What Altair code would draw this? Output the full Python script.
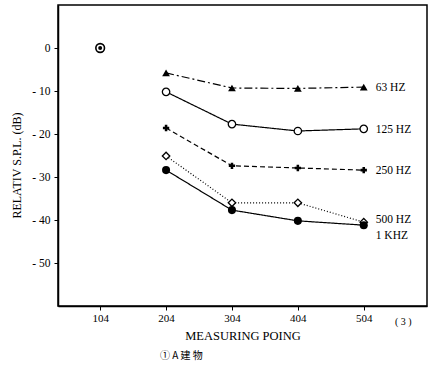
import altair as alt
import pandas as pd

points = [104, 204, 304, 404, 504]
curve_points = [204, 304, 404, 504]
ref_value = 0
hz63 = [-5.8, -9.3, -9.4, -9.1]
hz125 = [-10.2, -17.7, -19.3, -18.8]
hz250 = [-18.6, -27.4, -27.9, -28.4]
hz500 = [-25.1, -36.0, -36.0, -40.5]
khz1 = [-28.4, -37.7, -40.2, -41.2]

series_names = ["63 HZ", "125 HZ", "250 HZ", "500 HZ", "1 KHZ"]
series_values = [hz63, hz125, hz250, hz500, khz1]
label_y = [-9.3, -19.0, -28.6, -40.0, -43.8]

FONT = "Liberation Serif"

styles = {
    "63 HZ": dict(dash=[8, 3, 2, 3], shape="triangle-up", filled=True, size=60),
    "125 HZ": dict(dash=[1, 0], shape="circle", filled=False, size=55),
    "250 HZ": dict(dash=[5, 3], shape="cross", filled=True, size=40),
    "500 HZ": dict(dash=[1, 2], shape="diamond", filled=False, size=55),
    "1 KHZ": dict(dash=[1, 0], shape="circle", filled=True, size=65),
}

xscale = alt.Scale(domain=[40, 600], nice=False, zero=False)
yscale = alt.Scale(domain=[-60, 10], nice=False, zero=False)

xaxis = alt.Axis(values=points, title="MEASURING POING", labelFont=FONT, titleFont=FONT,
                 labelFontSize=11, titleFontSize=12.5, titleFontWeight="normal",
                 grid=False, tickSize=4, labelColor="black", titleColor="black",
                 domainColor="black", tickColor="black", titlePadding=6, domainWidth=1.5)
yaxis = alt.Axis(values=[0, -10, -20, -30, -40, -50], title="RELATIV  S.P.L.  (dB)",
                 labelExpr="datum.value == 0 ? '0' : '- ' + abs(datum.value)",
                 labelFont=FONT, titleFont=FONT, labelFontSize=11.5, titleFontSize=12,
                 titleFontWeight="normal", grid=False, tickSize=4, labelColor="black",
                 titleColor="black", domainColor="black", tickColor="black",
                 labelPadding=4, titlePadding=8, titleY=160, domainWidth=1.5)

X = alt.X("point:Q", scale=xscale, axis=xaxis)
Y = alt.Y("value:Q", scale=yscale, axis=yaxis)

layers = []
for name, vals in zip(series_names, series_values):
    st = styles[name]
    df = pd.DataFrame({"point": curve_points, "value": vals, "series": name})
    line = alt.Chart(df).mark_line(color="black", strokeWidth=1.2, strokeDash=st["dash"]).encode(x=X, y=Y)
    pts = alt.Chart(df).mark_point(
        shape=st["shape"], filled=st["filled"], size=st["size"], color="black",
        fill="black" if st["filled"] else "white", opacity=1, strokeWidth=1.3
    ).encode(x=X, y=Y)
    layers += [line, pts]

ref_df = pd.DataFrame({"point": [104], "value": [ref_value]})
ref_outer = alt.Chart(ref_df).mark_point(shape="circle", filled=False, size=75, color="black",
                                          strokeWidth=1.6, opacity=1).encode(x=X, y=Y)
ref_inner = alt.Chart(ref_df).mark_point(shape="circle", filled=True, size=16, color="black",
                                          opacity=1).encode(x=X, y=Y)

lab_df = pd.DataFrame({"point": [504] * 5, "value": label_y, "label": series_names})
labels = alt.Chart(lab_df).mark_text(align="left", dx=12, font=FONT, fontSize=11.5, color="black").encode(
    x=X, y=Y, text="label:N")

caption = alt.Chart(pd.DataFrame({"t": ["① A  建 物"]})).mark_text(
    font="Noto Sans CJK JP", fontSize=10, color="black", align="left").encode(
    x=alt.value(102), y=alt.value(351), text="t:N")
note = alt.Chart(pd.DataFrame({"t": ["( 3 )"]})).mark_text(
    font=FONT, fontSize=10, color="black", align="left").encode(
    x=alt.value(337), y=alt.value(317), text="t:N")

chart = alt.layer(*layers, ref_outer, ref_inner, labels, caption, note).properties(
    width=369, height=301,
    background="white",
    autosize=alt.AutoSizeParams(type="none"),
    padding={"left": 58, "top": 5, "right": 5, "bottom": 62},
).configure_view(stroke="black", strokeWidth=1.5)

chart.save("out.html", embed_options={"renderer": "svg", "actions": False})
